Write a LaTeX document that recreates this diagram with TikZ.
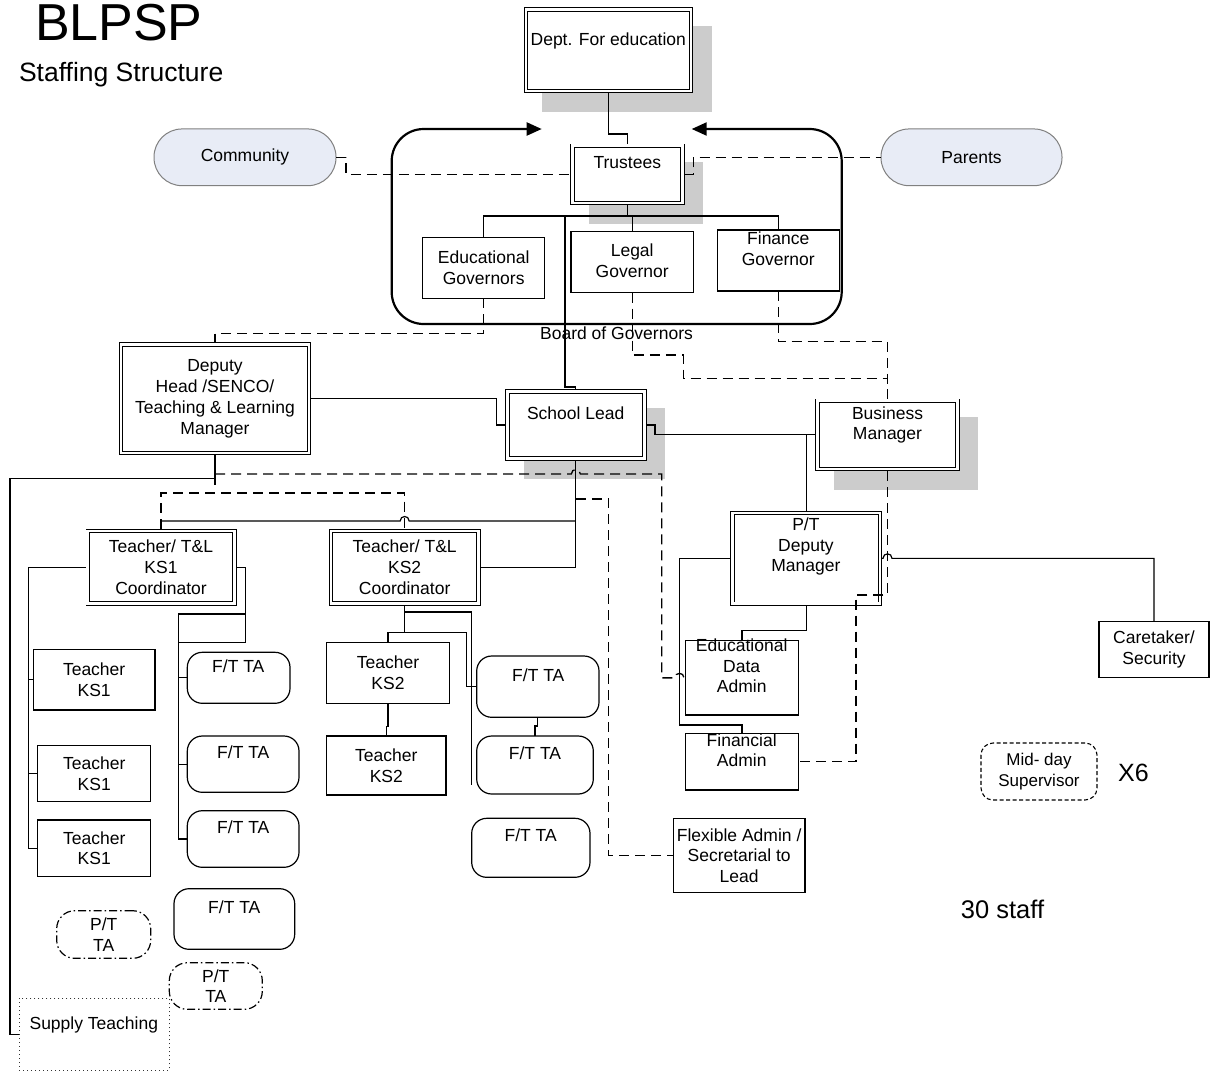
\documentclass[tikz,border=0pt]{standalone}
\usepackage{fontspec}
\setmainfont{Liberation Sans}
\usetikzlibrary{arrows.meta}
\pgfdeclarelayer{bg}
\pgfsetlayers{bg,main}
\definecolor{shadowgray}{gray}{0.8}
\definecolor{pillfill}{RGB}{232,236,246}
\definecolor{pilledge}{RGB}{128,128,128}
\begin{document}
\begin{tikzpicture}[x=1pt,y=-1pt,
  every node/.style={inner sep=0pt, outer sep=0pt},
  txt/.style={font=\fontsize{17.5}{20.7}\selectfont, align=center},
  dbox/.style={draw, double, line width=0.9pt, double distance=2.6pt, fill=white, outer sep=2.2pt},
  sbox/.style={draw, line width=1.2pt, fill=white},
  rbox/.style={draw, line width=1.2pt, fill=white, rounded corners=15pt},
  ptbox/.style={draw, line width=1.2pt, fill=white, rounded corners=18pt,
    dash pattern=on 8pt off 3pt on 1.5pt off 3pt},
  pill/.style={draw=pilledge, line width=1pt, fill=pillfill, rounded corners=28pt},
  link/.style={line width=1.2pt},
  dlink/.style={line width=1.3pt, dash pattern=on 10pt off 6pt},
]
\useasboundingbox (0,0) rectangle (1214,1072);

% ---- titles ----
\node[font=\fontsize{52}{60}\selectfont, anchor=base west] (title) at (35,40) {BLPSP};
\node[font=\fontsize{26.5}{31}\selectfont, anchor=base west] (subtitle) at (19,81) {Staffing Structure};

% ---- board of governors outline ----
\draw[line width=2.2pt, rounded corners=32pt,
  {Triangle[length=15pt,width=13pt]}-{Triangle[length=15pt,width=13pt]}]
  (541.7,129) -- (391.7,129) -- (391.7,324) -- (841.7,324) -- (841.7,129) -- (691.7,129);
\node[txt] (boardT) at (616.5,333.7) {Board of Governors};

% ---- top level ----
\node[dbox, minimum width=165pt, minimum height=81.5pt] (dept) at (608.5,50.25) {};
\node[txt] (deptT) at (608.3,40.5) {Dept. For education};

\node[dbox, minimum width=110pt, minimum height=57.3pt] (trustees) at (627.5,174.4) {};
\node[txt] (trusteesT) at (627.3,162.7) {Trustees};

\node[pill, txt, minimum width=182pt, minimum height=56.7pt] (community) at (245,157.3) {Community};
\node[pill, txt, minimum width=181pt, minimum height=56.7pt] (parents) at (971.5,157.3) {Parents};

\node[sbox, txt, minimum width=122pt, minimum height=61pt] (edgov) at (483.7,267.8) {Educational\\Governors};
\node[sbox, minimum width=122.3pt, minimum height=61pt] (legal) at (632.2,262.2) {};
\node[txt] (legalT) at (632.2,260.5) {Legal\\Governor};
\node[sbox, minimum width=122pt, minimum height=61pt] (finance) at (778.3,260.5) {};
\node[txt] (financeT) at (778.3,249) {Finance\\Governor};

% ---- management ----
\node[dbox, txt, minimum width=188pt, minimum height=108.5pt] (deputy) at (215,398.75)
  {Deputy\\Head /SENCO/\\Teaching \& Learning\\Manager};

\node[dbox, minimum width=137pt, minimum height=66.7pt] (lead) at (575.85,425) {};
\node[txt] (leadT) at (575.7,413) {School Lead};

\node[dbox, minimum width=140pt, minimum height=68.3pt] (bm) at (887.5,434.85) {};
\node[txt] (bmT) at (887.5,425) {Business\\Manager};

\node[dbox, minimum width=147.5pt, minimum height=90.7pt] (ptdm) at (806.25,558.35) {};
\node[txt] (ptdmT) at (805.9,546.5) {P/T\\Deputy\\Manager};

\node[sbox, txt, minimum width=110pt, minimum height=56pt] (caretaker) at (1154,649.7) {Caretaker/\\Security};

\node[sbox, minimum width=113.2pt, minimum height=74.3pt] (eda) at (741.9,677.85) {};
\node[txt] (edaT) at (741.7,665.85) {Educational\\Data\\Admin};
\node[sbox, minimum width=113.2pt, minimum height=56.7pt] (finadmin) at (741.9,761.65) {};
\node[txt] (finadminT) at (741.7,750.35) {Financial\\Admin};
\node[sbox, txt, minimum width=131.7pt, minimum height=74.4pt] (flex) at (739.15,855.5)
  {Flexible Admin /\\Secretarial to\\Lead};

\node[draw, line width=1.1pt, rounded corners=12pt, dash pattern=on 4pt off 2.5pt,
  minimum width=116pt, minimum height=57pt, font=\fontsize{17}{21}\selectfont, align=center]
  (midday) at (1039,771.5) {Mid- day\\Supervisor};
\node[font=\fontsize{25}{29}\selectfont, anchor=base] (x6) at (1133.5,781.7) {X6};
\node[font=\fontsize{25.5}{30}\selectfont, anchor=base] (staff) at (1002.5,918.3) {30 staff};

% ---- key stage coordinators ----
\node[dbox, txt, minimum width=146.6pt, minimum height=72.3pt] (ks1c) at (161,567.15) {Teacher/ T\&L\\KS1\\Coordinator};
\node[dbox, txt, minimum width=147.3pt, minimum height=72.6pt] (ks2c) at (404.65,567.3) {Teacher/ T\&L\\KS2\\Coordinator};

% ---- KS1 staff ----
\node[sbox, txt, minimum width=121.7pt, minimum height=60.7pt] (tks1a) at (94.15,679.65) {Teacher\\KS1};
\node[sbox, txt, minimum width=113pt, minimum height=56pt] (tks1b) at (94.2,773.7) {Teacher\\KS1};
\node[sbox, txt, minimum width=113pt, minimum height=56.7pt] (tks1c) at (94.2,848.35) {Teacher\\KS1};

\node[rbox, minimum width=102.7pt, minimum height=51pt] (ft1) at (238.65,677.8) {};
\node[txt] (ft1T) at (238.3,666.35) {F/T TA};
\node[rbox, minimum width=111.7pt, minimum height=56.3pt] (ft2) at (243.15,764.15) {};
\node[txt] (ft2T) at (243.3,752) {F/T TA};
\node[rbox, minimum width=111.7pt, minimum height=56.6pt] (ft3) at (243.15,839) {};
\node[txt] (ft3T) at (243.3,827) {F/T TA};
\node[rbox, minimum width=120.7pt, minimum height=60.6pt] (ft4) at (234.35,919) {};
\node[txt] (ft4T) at (234.3,907) {F/T TA};

\node[ptbox, txt, minimum width=94pt, minimum height=47.6pt] (pt1) at (103.7,934.5) {P/T\\TA};
\node[ptbox, txt, minimum width=93pt, minimum height=46.6pt] (pt2) at (215.8,986) {P/T\\TA};

\node[draw=black!80, line width=1pt, dash pattern=on 1pt off 3pt,
  minimum width=150.3pt, minimum height=71.7pt] (supply) at (94.15,1034.15) {};
\node[txt] (supplyT) at (93.8,1024.8) {Supply Teaching};

% ---- KS2 staff ----
\node[sbox, txt, minimum width=122.6pt, minimum height=60.6pt] (tks2a) at (388,673) {Teacher\\KS2};
\node[sbox, txt, minimum width=119.3pt, minimum height=59pt] (tks2b) at (386.35,765.5) {Teacher\\KS2};

\node[rbox, minimum width=122.3pt, minimum height=61.3pt] (ftk2a) at (537.85,686.65) {};
\node[txt] (ftk2aT) at (538.3,675.35) {F/T TA};
\node[rbox, minimum width=116.6pt, minimum height=58pt] (ftk2b) at (535,765) {};
\node[txt] (ftk2bT) at (535,753.65) {F/T TA};
\node[rbox, minimum width=118.3pt, minimum height=59pt] (ftk2c) at (530.85,847.8) {};
\node[txt] (ftk2cT) at (530.7,835.35) {F/T TA};

% ---- shadows and background ----
\begin{pgfonlayer}{bg}
  \fill[white] (0,0) rectangle (1214,1072);
  \foreach \n in {dept,trustees,lead,bm}
    \fill[shadowgray] ([shift={(18.5,18.5)}]\n.north west) rectangle ([shift={(18.5,18.5)}]\n.south east);
\end{pgfonlayer}

% ---- helper points ----
\coordinate (tbus) at (627.5,216);
\coordinate (busL) at (565,216);
\coordinate (dj) at (215,478.3);
\coordinate (dd) at (215,474);
\coordinate (leadD) at (575.85,499);
\coordinate (k1l) at (28.3,567.15);
\coordinate (k1r) at (245.7,614);
\coordinate (k1v) at (178.3,642.7);
\coordinate (k2j) at (404.65,612);
\coordinate (dangle) at (471.7,785);

% ---- top connectors ----
\draw[link] (dept.south) -- (608.5,134) -| (trustees.north);
\draw[link] (trustees.south) -- (tbus);
\draw[link] (edgov.north) |- (tbus) -| (finance.north);
\draw[link] (legal.north) -- (legal.north |- tbus);
\draw[link] (busL) -- (565,387) -| (lead.north);

\draw[dlink] (community.east) -- ++(10,0) |- (trustees.west);
\draw[dlink] (trustees.east) -- ++(9,0) |- (parents.west);

\draw[dlink] (edgov.south) -- ++(0,35) -| (deputy.north);
\draw[dlink] (legal.south) |- (683.3,355) -- (683.3,378.3) -| (bm.north);
\draw[dlink] (finance.south) -- (778.3,341.7) -| (bm.north);

% ---- management connectors ----
\draw[link] (deputy.east) -- (496.7,398.75) |- (lead.west);
\draw[link] (lead.east) -- (655,425) |- (bm.west);
\draw[link] (ptdm.north) |- (bm.west);
\draw[dlink] (bm.south) |- (856,595) |- (finadmin.east);
\draw[link] (ptdm.east) -- (883,558.35) .. controls (883,552.35) and (892,552.35) .. (892,558.35) -| (caretaker.north);
\draw[link] (ptdm.south) -- (806.25,630.7) -| (eda.north);
\draw[link] (ptdm.west) -| (679.4,725) -| (finadmin.north);

\draw[link] (deputy.south) -- ++(0,30);
\draw[link] (dj) -| (10,1034.15) -- (supply.west);
\draw[dlink] (dd) -- (571.35,474) .. controls (571.35,468) and (580.35,468) .. (580.35,474)
  -- (661.7,474) |- (675,677.85) .. controls (675,671.85) and (684,671.85) .. (684,677.85) -- (eda.west);

% ---- coordinators ----
\draw[link] (lead.south) |- (ks2c.east);
\draw[link] (ks1c.north) |- (400.15,521) .. controls (400.15,515) and (409.15,515) .. (409.15,521) -- (575.85,521);
\draw[dlink] (ks1c.north) -- (161,493) -| (ks2c.north);
\draw[dlink] (leadD) -- (608.5,499) |- (flex.west);

% ---- KS1 connectors ----
\draw[link] (ks1c.west) -- (k1l) |- (tks1a.west);
\draw[link] (k1l) |- (tks1b.west);
\draw[link] (k1l) |- (tks1c.west);
\draw[link] (ks1c.east) -- (245.7,567.15) -- (245.7,642.7) -- (k1v) |- (ft1.west);
\draw[link] (k1r) -- (178.3,614) -- (k1v);
\draw[link] (k1v) |- (ft2.west);
\draw[link] (k1v) |- (ft3.west);

% ---- KS2 connectors ----
\draw[link] (ks2c.south) |- (466.7,632.7) |- (ftk2a.west);
\draw[link] (ks2c.south) -- (404.65,632.7) -| (tks2a.north);
\draw[link] (k2j) -- (471.7,612) -- (dangle);
\draw[link] (tks2a.south) -- ++(0,23) -| (tks2b.north);
\draw[link] (ftk2a.south) -- ++(0,8.7) -| (ftk2b.north);
\end{tikzpicture}
\end{document}
